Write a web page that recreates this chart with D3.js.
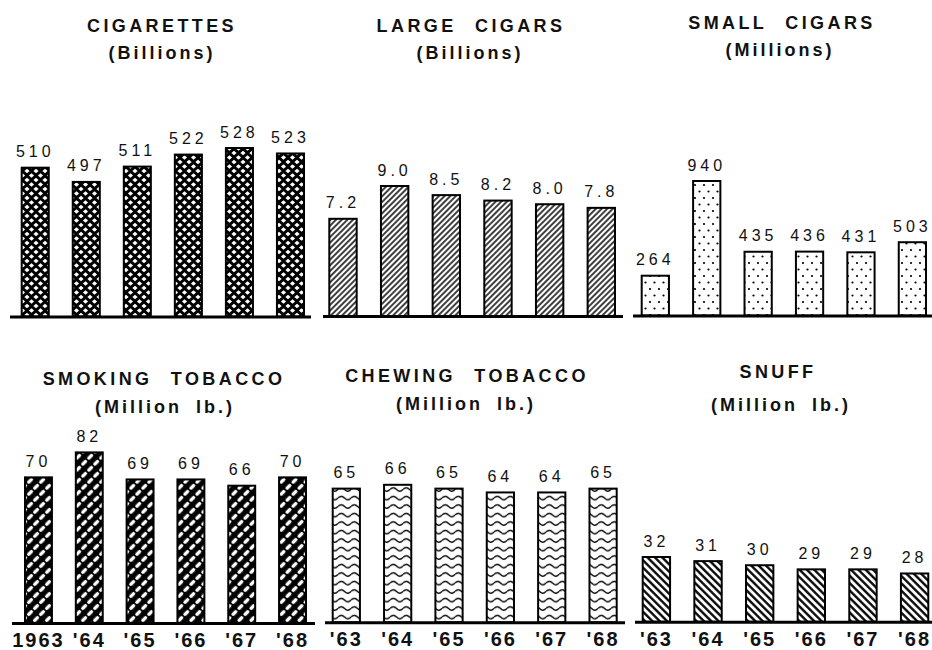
<!DOCTYPE html>
<html>
<head>
<meta charset="utf-8">
<script src="https://cdn.jsdelivr.net/npm/d3@7"></script>
<style>
  html, body { margin: 0; padding: 0; background: #fff; }
  svg { display: block; }
  .title { font-family: "Liberation Sans", sans-serif; font-weight: bold; font-size: 18px; letter-spacing: 3.4px; word-spacing: 10px; fill: #111; }
  .unit { font-family: "Liberation Sans", sans-serif; font-weight: bold; font-size: 18px; letter-spacing: 3px; word-spacing: 6px; fill: #111; }
  .val { font-family: "Liberation Sans Narrow", "Liberation Sans", sans-serif; font-size: 16px; letter-spacing: 4px; fill: #111; }
  .yr text { font-family: "Liberation Sans Narrow", "Liberation Sans", sans-serif; font-weight: bold; font-size: 20px; letter-spacing: 2px; fill: #111; }
</style>
</head>
<body>
<script>
// ---------------- data ----------------
const years = ["1963", "1964", "1965", "1966", "1967", "1968"];
const yearLabelsFirst = ["1963", "'64", "'65", "'66", "'67", "'68"];
const yearLabelsShort = ["'63", "'64", "'65", "'66", "'67", "'68"];

const cigarettes     = [510, 497, 511, 522, 528, 523];
const largeCigars    = [7.2, 9.0, 8.5, 8.2, 8.0, 7.8];
const smallCigars    = [264, 940, 435, 436, 431, 503];
const smokingTobacco = [70, 82, 69, 69, 66, 70];
const chewingTobacco = [65, 66, 65, 64, 64, 65];
const snuff          = [32, 31, 30, 29, 29, 28];

const titles = ["CIGARETTES", "LARGE CIGARS", "SMALL CIGARS", "SMOKING TOBACCO", "CHEWING TOBACCO", "SNUFF"];
const units  = ["(Billions)", "(Billions)", "(Millions)", "(Million lb.)", "(Million lb.)", "(Million lb.)"];
const valueFormats = ["d", ".1f", "d", "d", "d", "d"];
const seriesList = [cigarettes, largeCigars, smallCigars, smokingTobacco, chewingTobacco, snuff];

// ---------------- layout (positions / styles) ----------------
const layout = [
  { bars: [21.7, 304],  base: 316.5, floor: 374,   topPx: 148,   line: [10, 311],  tx: 162, ty: 31.5, ux: 162, uy: 59, pat: "p-cross", yr: null },
  { bars: [329.3, 615], base: 316,   floor: 1.865, topPx: 186,   line: [323, 623], tx: 471, ty: 31.5, ux: 470, uy: 59, pat: "p-fwd",   yr: null },
  { bars: [641.7, 926], base: 315.5, floor: -20,   topPx: 181,   line: [633, 932], tx: 782, ty: 29,   ux: 780, uy: 56, pat: "p-dots",  yr: null },
  { bars: [25, 306],    base: 623,   floor: 0,     topPx: 452.4, line: [12, 315],  tx: 164, ty: 385,  ux: 165, uy: 413, pat: "p-smoke", yr: yearLabelsFirst },
  { bars: [332.7, 616.7], base: 622.3, floor: 30,  topPx: 484.8, line: [325, 625], tx: 467, ty: 382,  ux: 466, uy: 410, pat: "p-wave",  yr: yearLabelsShort },
  { bars: [642.7, 928.3], base: 621.7, floor: 16.3, topPx: 557,  line: [635, 932], tx: 778, ty: 378,  ux: 781, uy: 411, pat: "p-back",  yr: yearLabelsShort }
];

const W = 932, H = 650;
const svg = d3.select("body").append("svg").attr("width", W).attr("height", H);
const defs = svg.append("defs");

// cross-hatch (black with white diamonds)
const pc = defs.append("pattern").attr("id", "p-cross").attr("patternUnits", "userSpaceOnUse")
  .attr("width", 9).attr("height", 9);
pc.append("rect").attr("width", 9).attr("height", 9).attr("fill", "#000");
[[0,0],[9,0],[0,9],[9,9],[4.5,4.5]].forEach(([cx, cy]) =>
  pc.append("path").attr("d", `M${cx-2.6},${cy} L${cx},${cy-2.3} L${cx+2.6},${cy} L${cx},${cy+2.3} Z`).attr("fill", "#fff"));

// forward hatch "/"
const pf = defs.append("pattern").attr("id", "p-fwd").attr("patternUnits", "userSpaceOnUse")
  .attr("width", 4).attr("height", 4).attr("patternTransform", "rotate(45)");
pf.append("rect").attr("width", 4).attr("height", 4).attr("fill", "#fff");
pf.append("line").attr("x1", 1).attr("y1", 0).attr("x2", 1).attr("y2", 4).attr("stroke", "#000").attr("stroke-width", 1.5);

// sparse dots
const pd = defs.append("pattern").attr("id", "p-dots").attr("patternUnits", "userSpaceOnUse")
  .attr("width", 9).attr("height", 13);
pd.append("rect").attr("width", 9).attr("height", 13).attr("fill", "#fff");
pd.append("circle").attr("cx", 2).attr("cy", 3).attr("r", 1.1).attr("fill", "#000");
pd.append("circle").attr("cx", 6.5).attr("cy", 9.5).attr("r", 1.1).attr("fill", "#000");

// smoking: black with white dashed "/" stripes
const ps = defs.append("pattern").attr("id", "p-smoke").attr("patternUnits", "userSpaceOnUse")
  .attr("width", 8.5).attr("height", 8.5).attr("patternTransform", "rotate(45)");
ps.append("rect").attr("width", 8.5).attr("height", 8.5).attr("fill", "#000");
ps.append("line").attr("x1", 4.25).attr("y1", 2.3).attr("x2", 4.25).attr("y2", 6.2)
  .attr("stroke", "#fff").attr("stroke-width", 3.4).attr("stroke-linecap", "round");

// chewing: horizontal waves
const pw = defs.append("pattern").attr("id", "p-wave").attr("patternUnits", "userSpaceOnUse")
  .attr("width", 13).attr("height", 8.5);
pw.append("rect").attr("width", 13).attr("height", 8.5).attr("fill", "#fff");
pw.append("path").attr("d", "M0,5 Q3.25,1.5 6.5,5 T13,5").attr("fill", "none")
  .attr("stroke", "#000").attr("stroke-width", 1.4);

// snuff: back hatch "\"
const pb = defs.append("pattern").attr("id", "p-back").attr("patternUnits", "userSpaceOnUse")
  .attr("width", 5.2).attr("height", 5.2).attr("patternTransform", "rotate(-45)");
pb.append("rect").attr("width", 5.2).attr("height", 5.2).attr("fill", "#fff");
pb.append("line").attr("x1", 1.3).attr("y1", 0).attr("x2", 1.3).attr("y2", 5.2).attr("stroke", "#000").attr("stroke-width", 2.3);

// ---------------- panels ----------------
seriesList.forEach((values, i) => {
  const L = layout[i];
  const g = svg.append("g");
  const x = d3.scaleBand().domain(years).range(L.bars).paddingInner(0.47).paddingOuter(0);
  const y = d3.scaleLinear().domain([L.floor, d3.max(values)]).range([L.base, L.topPx]);
  const fmt = d3.format(valueFormats[i]);
  const rows = years.map((yr, j) => ({ yr, v: values[j] }));

  g.append("text").attr("class", "title").attr("x", L.tx).attr("y", L.ty)
    .attr("text-anchor", "middle").text(titles[i]);
  g.append("text").attr("class", "unit").attr("x", L.ux).attr("y", L.uy)
    .attr("text-anchor", "middle").text(units[i]);

  g.selectAll("rect.bar").data(rows).join("rect").attr("class", "bar")
    .attr("x", d => x(d.yr)).attr("width", x.bandwidth())
    .attr("y", d => y(d.v)).attr("height", d => L.base - y(d.v))
    .attr("fill", `url(#${L.pat})`).attr("stroke", "#000").attr("stroke-width", 2);

  g.selectAll("text.val").data(rows).join("text").attr("class", "val")
    .attr("x", d => x(d.yr) + x.bandwidth() / 2).attr("y", d => y(d.v) - 10.5)
    .attr("text-anchor", "middle").text(d => fmt(d.v));

  g.append("line").attr("x1", L.line[0]).attr("x2", L.line[1])
    .attr("y1", L.base + 0.5).attr("y2", L.base + 0.5)
    .attr("stroke", "#000").attr("stroke-width", 3);

  if (L.yr) {
    const labels = L.yr;
    const ax = d3.axisBottom(x).tickSize(0).tickPadding(10).tickFormat((d, j) => labels[j]);
    const ag = g.append("g").attr("class", "yr").attr("transform", `translate(0,${L.base})`).call(ax);
    ag.select(".domain").remove();
    ag.selectAll("text").attr("font-family", null).attr("font-size", null).attr("fill", null);
  }
});
</script>
</body>
</html>
